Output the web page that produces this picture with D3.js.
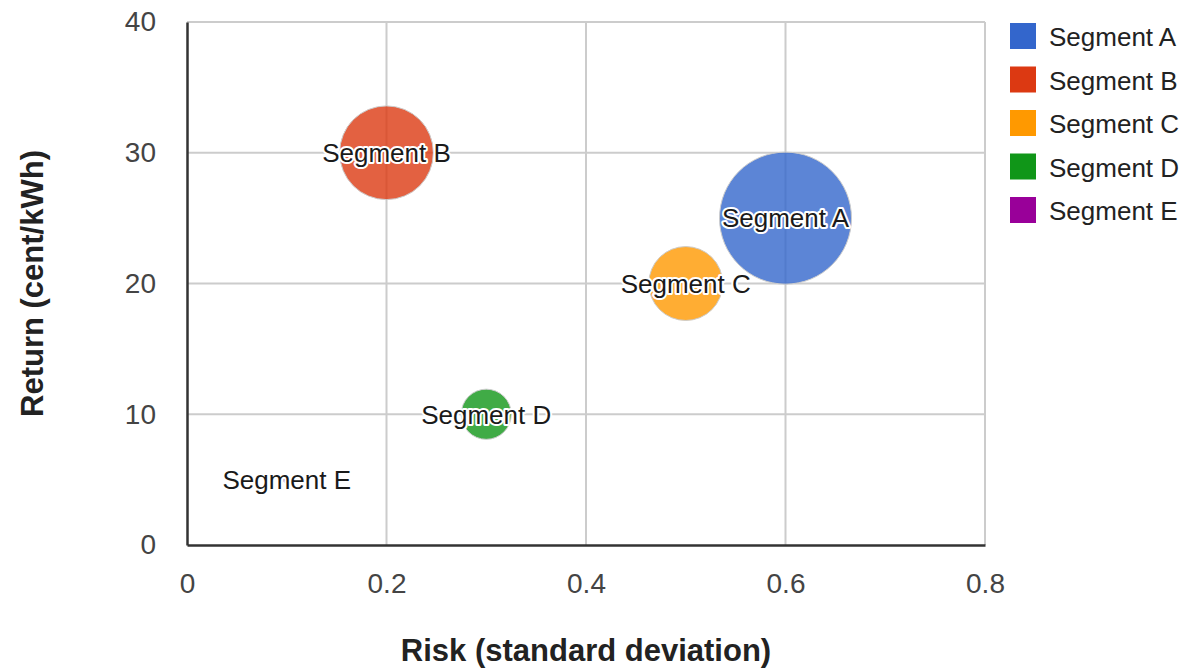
<!DOCTYPE html>
<html>
<head>
<meta charset="utf-8">
<script src="https://cdn.jsdelivr.net/npm/d3@7"></script>
<style>
  html, body { margin: 0; padding: 0; background: #fff; }
  svg { display: block; font-family: "Liberation Sans", Arial, sans-serif; }
</style>
</head>
<body>
<svg id="chart" width="1195" height="671"></svg>
<script>
// ---- Data ----
const segments = ["Segment A", "Segment B", "Segment C", "Segment D", "Segment E"];
const risk     = [0.6, 0.2, 0.5, 0.3, 0.1];     // x: standard deviation
const returns  = [25, 30, 20, 10, 5];            // y: cent/kWh
const sizes    = [100, 71, 56, 38, 5];           // bubble size
const colors   = ["#3366cc", "#dc3912", "#ff9900", "#109618", "#990099"];
const xTicks   = [0, 0.2, 0.4, 0.6, 0.8];
const yTicks   = [0, 10, 20, 30, 40];
const xTitle   = "Risk (standard deviation)";
const yTitle   = "Return (cent/kWh)";

const data = segments.map((s, i) => ({ name: s, x: risk[i], y: returns[i], size: sizes[i], color: colors[i] }));

const svg = d3.select("#chart");
const mL = 187, mR = 985, mT = 22, mB = 545;

const x = d3.scaleLinear().domain([0, 0.8]).range([mL, mR]);
const y = d3.scaleLinear().domain([0, 40]).range([mB, mT]);
const r = d3.scaleLinear().domain([0, 100]).range([0, 66]);

// gridlines
const grid = svg.append("g");
grid.selectAll("line.h").data(yTicks.filter(d => d > 0)).join("line")
  .attr("class", "h")
  .attr("x1", mL).attr("x2", mR)
  .attr("y1", d => y(d)).attr("y2", d => y(d))
  .attr("stroke", "#cccccc").attr("stroke-width", 2);
grid.selectAll("line.v").data(xTicks.filter(d => d > 0)).join("line")
  .attr("class", "v")
  .attr("y1", mT).attr("y2", mB)
  .attr("x1", d => x(d)).attr("x2", d => x(d))
  .attr("stroke", "#cccccc").attr("stroke-width", 2);

// axes
const xAxis = d3.axisBottom(x).tickValues(xTicks).tickSize(0).tickPadding(28)
  .tickFormat(d => d === 0 ? "0" : d3.format(".1f")(d));
const gx = svg.append("g").attr("transform", `translate(0,${mB})`).call(xAxis);
gx.select(".domain").attr("stroke", "#333").attr("stroke-width", 2.5);
gx.selectAll("text").attr("font-size", 28).attr("fill", "#444")
  .attr("font-family", "Liberation Sans, Arial, sans-serif");

const yAxis = d3.axisLeft(y).tickValues(yTicks).tickSize(0).tickPadding(31);
const gy = svg.append("g").attr("transform", `translate(${mL},0)`).call(yAxis);
gy.select(".domain").attr("stroke", "#333").attr("stroke-width", 2.5);
gy.selectAll("text").attr("font-size", 28).attr("fill", "#444")
  .attr("font-family", "Liberation Sans, Arial, sans-serif");

// bubbles
const sorted = data.slice().sort((a, b) => b.size - a.size);
svg.append("g").selectAll("circle").data(sorted).join("circle")
  .attr("cx", d => x(d.x)).attr("cy", d => y(d.y)).attr("r", d => r(d.size))
  .attr("fill", d => d.color).attr("fill-opacity", 0.8)
  .attr("stroke", "#cccccc").attr("stroke-width", 1);

// bubble labels
svg.append("g").selectAll("text").data(sorted).join("text")
  .attr("x", d => x(d.x)).attr("y", d => y(d.y))
  .attr("text-anchor", "middle").attr("dy", "0.36em")
  .attr("font-size", 26).attr("fill", "#1a1a1a")
  .attr("stroke", "#fff").attr("stroke-width", 4).attr("stroke-linejoin", "round")
  .attr("paint-order", "stroke")
  .text(d => d.name);

// axis titles
svg.append("text").attr("x", (mL + mR) / 2).attr("y", 661)
  .attr("text-anchor", "middle").attr("font-size", 31).attr("font-weight", "bold")
  .attr("fill", "#222").text(xTitle);
svg.append("text").attr("transform", `translate(43,${(mT + mB) / 2}) rotate(-90)`)
  .attr("text-anchor", "middle").attr("font-size", 31).attr("font-weight", "bold")
  .attr("fill", "#222").text(yTitle);

// legend
const legend = svg.append("g").attr("transform", "translate(1010,23)");
const items = legend.selectAll("g").data(data).join("g")
  .attr("transform", (d, i) => `translate(0,${i * 43.5})`);
items.append("rect").attr("width", 26).attr("height", 26).attr("fill", d => d.color);
items.append("text").attr("x", 39).attr("y", 14).attr("dy", "0.36em")
  .attr("font-size", 26).attr("fill", "#222").text(d => d.name);
</script>
</body>
</html>
